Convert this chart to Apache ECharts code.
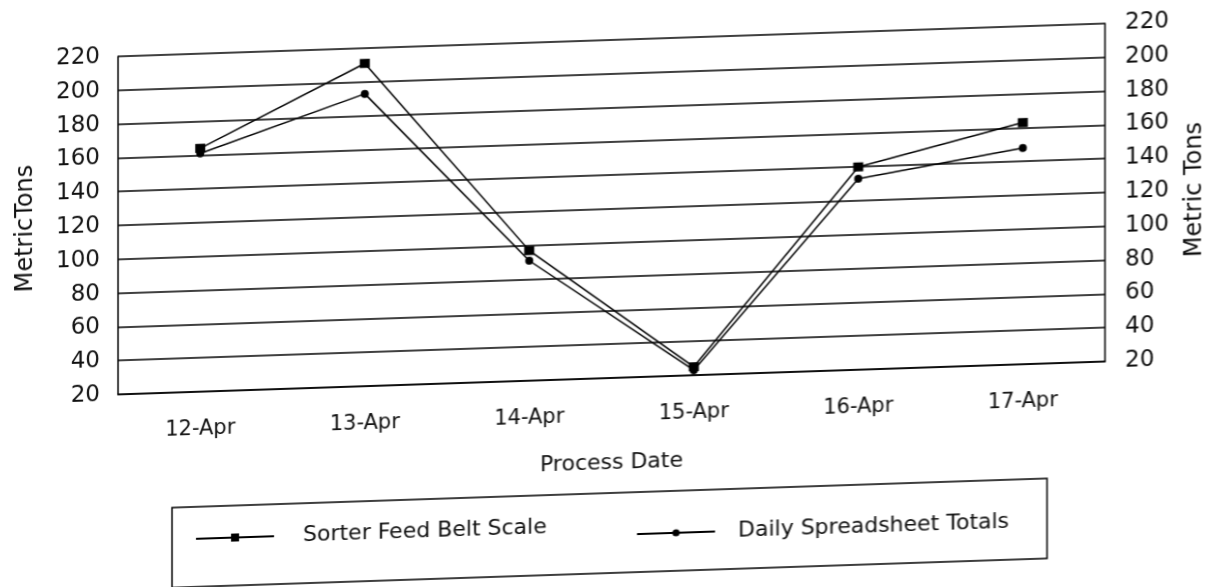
<!DOCTYPE html>
<html>
<head>
<meta charset="utf-8">
<script src="https://cdn.jsdelivr.net/npm/echarts@6/dist/echarts.min.js"></script>
<style>
    html, body { margin: 0; padding: 0; background: #fff; }
    /* the scan is slanted a little: right side higher */
    #chart { width: 1221px; height: 587px; transform: skewY(-1.91deg); }
</style>
</head>
<body>
<div id="chart"></div>
<script>
const dates = ['12-Apr', '13-Apr', '14-Apr', '15-Apr', '16-Apr', '17-Apr'];
const sorterFeed = [164, 211, 97, 25, 140, 163];
const dailyTotals = [161, 193, 91, 23, 133, 148];
const seriesNames = ['Sorter Feed Belt Scale', 'Daily Spreadsheet Totals'];

const chart = echarts.init(document.getElementById('chart'));
const font = 'DejaVu Sans';

const yAxisBase = {
    type: 'value',
    min: 20,
    max: 220,
    interval: 20,
    name: 'Metric Tons',
    nameLocation: 'middle',
    nameRotate: 90,
    nameTextStyle: { fontFamily: font, fontSize: 24, color: '#111' },
    axisLine: { show: true, lineStyle: { color: '#000', width: 1.5 } },
    axisTick: { show: false },
    axisLabel: { fontFamily: font, fontSize: 23, color: '#111' },
};

const option = {
    backgroundColor: '#fff',
    animation: false,
    grid: { left: 118, right: 116, top: 40, bottom: 209 },
    xAxis: {
        type: 'category',
        data: dates,
        name: 'Process Date',
        nameLocation: 'middle',
        nameGap: 74,
        nameTextStyle: { fontFamily: font, fontSize: 22, color: '#111' },
        axisLine: { lineStyle: { color: '#000', width: 1.5 } },
        axisTick: { show: false },
        axisLabel: { fontFamily: font, fontSize: 21, color: '#111', margin: 27 },
    },
    yAxis: [
        Object.assign({}, yAxisBase, {
            position: 'left',
            name: 'MetricTons',
            nameGap: 80,
            axisLabel: Object.assign({}, yAxisBase.axisLabel, { margin: 18 }),
            splitLine: { show: true, lineStyle: { color: '#000', width: 1.5 } },
        }),
        Object.assign({}, yAxisBase, {
            position: 'right',
            nameGap: 78,
            axisLabel: Object.assign({}, yAxisBase.axisLabel, { margin: 20 }),
            splitLine: { show: false },
        }),
    ],
    legend: [
        {
            data: [seriesNames[0]],
            left: 195,
            top: 514,
            padding: 0,
            itemWidth: 78,
            itemHeight: 10,
            textStyle: { fontFamily: font, fontSize: 22, color: '#111', padding: [0, 0, 0, 24] },
        },
        {
            data: [seriesNames[1]],
            left: 636,
            top: 524,
            padding: 0,
            itemWidth: 78,
            itemHeight: 9,
            textStyle: { fontFamily: font, fontSize: 22, color: '#111', padding: [0, 0, 0, 18] },
        },
    ],
    graphic: [
        {
            type: 'rect',
            shape: { x: 172, y: 493, width: 875, height: 80 },
            style: { fill: 'none', stroke: '#000', lineWidth: 1.5 },
        },
    ],
    series: [
        {
            name: seriesNames[0],
            type: 'line',
            data: sorterFeed,
            symbol: 'rect',
            symbolSize: [10, 9],
            color: '#000',
            lineStyle: { color: '#000', width: 1.5 },
            itemStyle: { color: '#000' },
        },
        {
            name: seriesNames[1],
            type: 'line',
            data: dailyTotals,
            symbol: 'circle',
            symbolSize: 8,
            color: '#000',
            lineStyle: { color: '#000', width: 1.5 },
            itemStyle: { color: '#000' },
        },
    ],
};

chart.setOption(option);
</script>
</body>
</html>
